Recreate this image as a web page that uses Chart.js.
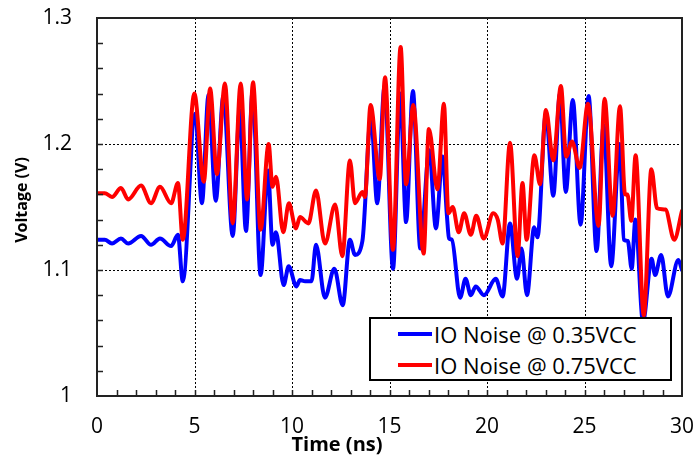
<!DOCTYPE html>
<html>
<head>
<meta charset="utf-8">
<script src="https://cdn.jsdelivr.net/npm/chart.js@4.4.1/dist/chart.umd.min.js"></script>
<style>
  body { margin: 0; background: #fff; }
  #wrap { position: relative; width: 696px; height: 456px; }
  #legend {
    position: absolute; left: 369px; top: 317px; width: 299px; height: 60px;
    border: 2px solid #000; background: #fff;
    font-family: 'Open Sans', sans-serif; font-size: 22px; color: #000;
  }
  #legend .row { display: flex; align-items: center; height: 32px; margin-top: -1px; }
  #legend .swatch { width: 34px; height: 4px; margin-left: 27px; margin-right: 2px; }
</style>
</head>
<body>
<div id="wrap">
  <canvas id="chartNoise"></canvas>
  <div id="legend"></div>
</div>
<script>
// ── Données ─────────────────────────────────────────
const seriesNames  = ['IO Noise @ 0.35VCC', 'IO Noise @ 0.75VCC'];
const seriesColors = ['#0000ff', '#ff0000'];
const xTickLabels  = [0, 5, 10, 15, 20, 25, 30];
const yTickLabels  = [1, 1.1, 1.2, 1.3];

const timeBlue = [0,0.4,0.77,1.23,1.6,2.26,2.77,3.23,3.8,4.15,4.4,5.03,5.38,5.72,6.09,6.48,6.96,7.32,7.64,7.98,
  8.39,8.77,9.0,9.18,9.57,9.83,10.22,10.41,10.67,11.0,11.23,11.69,12.17,12.6,12.97,13.23,13.61,14.05,14.37,14.75,
  15.18,15.55,15.85,16.2,16.58,17.04,17.38,17.72,17.95,18.05,18.2,18.62,18.9,19.17,19.42,19.84,20.45,20.8,21.18,21.54,
  21.77,22.05,22.42,22.59,23.02,23.4,23.74,24.04,24.4,24.8,25.21,25.62,25.98,26.37,26.8,27.02,27.22,27.42,27.61,28.0,
  28.44,28.62,28.93,29.28,29.81,30];
const voltBlue = [1.124,1.124,1.121,1.125,1.121,1.127,1.120,1.125,1.119,1.128,1.091,1.224,1.153,1.239,1.155,1.238,1.127,1.227,1.131,1.242,
  1.096,1.179,1.120,1.130,1.088,1.103,1.087,1.092,1.091,1.091,1.120,1.078,1.101,1.072,1.124,1.112,1.123,1.222,1.153,1.246,
  1.101,1.240,1.138,1.242,1.117,1.195,1.133,1.190,1.142,1.125,1.124,1.078,1.093,1.080,1.087,1.080,1.093,1.079,1.137,1.093,
  1.117,1.080,1.134,1.126,1.224,1.159,1.240,1.162,1.235,1.136,1.238,1.115,1.215,1.103,1.200,1.124,1.123,1.101,1.140,1.059,
  1.109,1.096,1.112,1.079,1.108,1.100];

const timeRed = [0,0.4,0.77,1.23,1.6,2.26,2.77,3.23,3.8,4.15,4.4,4.99,5.48,5.8,6.15,6.56,6.96,7.37,7.7,8.0,
  8.39,8.8,9.0,9.18,9.55,9.84,10.2,10.41,10.84,11.23,11.69,12.21,12.58,12.97,13.23,13.61,13.74,14.03,14.5,14.77,
  15.18,15.57,15.85,16.22,16.75,17.02,17.46,17.79,18.02,18.24,18.55,18.83,19.17,19.45,19.83,20.32,20.55,20.8,21.18,21.57,
  21.82,22.03,22.43,22.72,23.02,23.4,23.79,24.06,24.36,24.75,25.18,25.72,26.03,26.44,26.82,27.08,27.2,27.4,27.62,28.04,
  28.43,28.72,29.15,29.6,30];
const voltRed = [1.161,1.161,1.158,1.165,1.156,1.167,1.153,1.166,1.153,1.169,1.124,1.240,1.170,1.244,1.176,1.248,1.137,1.248,1.156,1.249,
  1.132,1.200,1.166,1.174,1.130,1.153,1.133,1.142,1.137,1.163,1.121,1.152,1.111,1.187,1.153,1.162,1.158,1.231,1.172,1.253,
  1.116,1.277,1.168,1.231,1.113,1.212,1.164,1.232,1.145,1.150,1.130,1.145,1.128,1.143,1.125,1.145,1.140,1.121,1.201,1.111,
  1.169,1.124,1.191,1.168,1.227,1.187,1.246,1.190,1.202,1.181,1.232,1.135,1.236,1.143,1.230,1.160,1.160,1.139,1.191,1.064,
  1.180,1.149,1.148,1.124,1.147];

const toPoints = (ts, vs) => ts.map((t, i) => ({ x: t, y: vs[i] }));

// pas de marge automatique pour les étiquettes en bout d'axe
const noLabelPadding = s => { s.paddingTop = 0; s.paddingBottom = 0; s.paddingLeft = 0; s.paddingRight = 0; };

// ── Cadre, grille pointillée, petites graduations, titres ──
const framePlugin = {
  id: 'frame',
  beforeDatasetsDraw(chart) {
    const { ctx, chartArea: a, scales: { x, y } } = chart;
    ctx.save();
    ctx.strokeStyle = '#000';
    ctx.lineWidth = 1;
    ctx.setLineDash([2, 2]);
    xTickLabels.slice(1, -1).forEach(v => {
      const px = Math.round(x.getPixelForValue(v)) + 0.5;
      ctx.beginPath(); ctx.moveTo(px, a.top); ctx.lineTo(px, a.bottom); ctx.stroke();
    });
    yTickLabels.slice(1, -1).forEach(v => {
      const py = Math.round(y.getPixelForValue(v)) + 0.5;
      ctx.beginPath(); ctx.moveTo(a.left, py); ctx.lineTo(a.right, py); ctx.stroke();
    });
    ctx.restore();
  },
  afterDatasetsDraw(chart) {
    const { ctx, chartArea: a, scales: { x, y } } = chart;
    ctx.save();
    ctx.strokeStyle = '#222';
    ctx.lineWidth = 1.5;
    ctx.beginPath();
    for (let t = 1; t < 30; t++) {
      const px = Math.round(x.getPixelForValue(t)) + 0.5;
      ctx.moveTo(px, a.bottom); ctx.lineTo(px, a.bottom - 6);
    }
    for (let k = 1; k < 15; k++) {
      const py = Math.round(y.getPixelForValue(1 + k * 0.02)) + 0.5;
      ctx.moveTo(a.left, py); ctx.lineTo(a.left + 6, py);
    }
    ctx.stroke();
    ctx.lineWidth = 2;
    ctx.strokeRect(a.left, a.top, a.right - a.left, a.bottom - a.top);

    ctx.fillStyle = '#000';
    ctx.textAlign = 'center';
    ctx.textBaseline = 'middle';
    ctx.font = 'bold 20px "Open Sans"';
    ctx.fillText('Time (ns)', 337, 445);
    ctx.translate(22, 200);
    ctx.rotate(-Math.PI / 2);
    ctx.font = 'bold 16px "Open Sans"';
    ctx.fillText('Voltage (V)', 0, 0);
    ctx.restore();
  }
};

// ── Graphique ───────────────────────────────────────
const ctxN = document.getElementById('chartNoise');
new Chart(ctxN, {
  type: 'line',
  data: {
    datasets: [
      { label: seriesNames[0], data: toPoints(timeBlue, voltBlue), borderColor: seriesColors[0], order: 2 },
      { label: seriesNames[1], data: toPoints(timeRed, voltRed),   borderColor: seriesColors[1], order: 1 },
    ]
  },
  options: {
    responsive: true,
    maintainAspectRatio: false,
    animation: false,
    layout: { padding: { top: 18, right: 14, left: 0, bottom: 0 } },
    elements: {
      line: { borderWidth: 4, cubicInterpolationMode: 'monotone', borderCapStyle: 'round', borderJoinStyle: 'round' },
      point: { radius: 0 }
    },
    plugins: { legend: { display: false }, tooltip: { enabled: false } },
    scales: {
      x: {
        type: 'linear', min: 0, max: 30,
        afterBuildTicks: s => { s.ticks = xTickLabels.map(v => ({ value: v })); },
        afterFit: s => { s.height = 60; noLabelPadding(s); },
        grid: { display: false, drawTicks: false },
        border: { display: false },
        ticks: { color: '#000', padding: 18, maxRotation: 0, font: { family: 'Open Sans', size: 21 } }
      },
      y: {
        min: 1, max: 1.3,
        afterBuildTicks: s => { s.ticks = yTickLabels.map(v => ({ value: v })); },
        afterFit: s => { s.width = 97; noLabelPadding(s); },
        grid: { display: false, drawTicks: false },
        border: { display: false },
        ticks: { color: '#000', padding: 25, font: { family: 'Open Sans', size: 21 },
                 callback: v => String(+v.toFixed(1)) }
      }
    }
  },
  plugins: [framePlugin]
});

// ── Légende ─────────────────────────────────────────
const legend = document.getElementById('legend');
seriesNames.forEach((name, i) => {
  const row = document.createElement('div');
  row.className = 'row';
  row.innerHTML = `<span class="swatch" style="background:${seriesColors[i]}"></span><span>${name}</span>`;
  legend.appendChild(row);
});
</script>
</body>
</html>
